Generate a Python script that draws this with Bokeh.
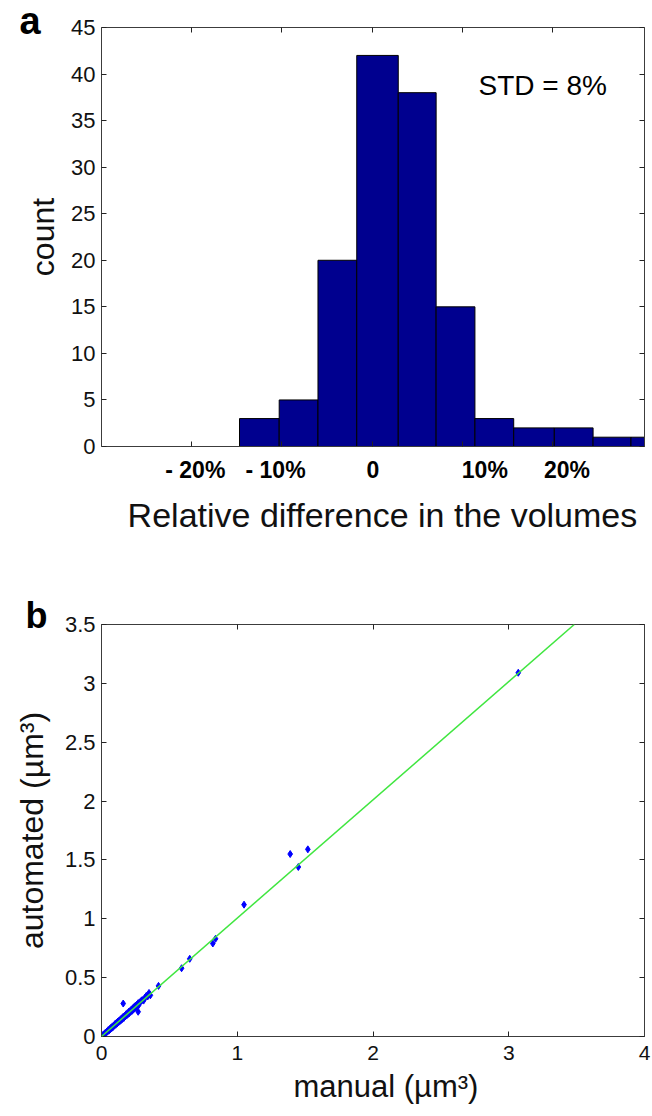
from bokeh.plotting import figure
from bokeh.models import Range1d, LinearAxis, FixedTicker, Label, Slope, ColumnDataSource
from bokeh.layouts import column
from bokeh.embed import file_html
from bokeh.resources import INLINE

FONT = "Liberation Sans"

# ---------------- data: panel a (histogram of relative difference, %) ----------------
bin_left = [-23.4, -19.1, -14.7, -10.3, -6.0, -1.7, 2.9, 7.1, 11.4, 15.7, 20.2, 24.5, 28.7]
bin_right = [-19.1, -14.7, -10.3, -6.0, -1.7, 2.9, 7.1, 11.4, 15.7, 20.2, 24.5, 28.7, 33.0]
counts = [0, 0, 3, 5, 20, 42, 38, 15, 3, 2, 2, 1, 1]
hist_ticks = [-20, -10, 0, 10, 20]
hist_label_pos = [-19.6, -10.7, 0.1, 12.5, 21.6]
hist_labels = ["- 20%", "- 10%", "0", "10%", "20%"]
count_ticks = [0, 5, 10, 15, 20, 25, 30, 35, 40, 45]
std_text = "STD = 8%"

# ---------------- data: panel b (automated vs manual volumes, um^3) ----------------
manual = [3.07, 1.52, 1.45, 1.39, 1.05, 0.84, 0.82, 0.65, 0.59, 0.42, 0.36, 0.35, 0.34, 0.27, 0.16,
          0.005, 0.01, 0.015, 0.02, 0.025, 0.03, 0.035, 0.04, 0.045, 0.05, 0.055, 0.06, 0.065, 0.07,
          0.075, 0.08, 0.085, 0.09, 0.095, 0.10, 0.105, 0.11, 0.115, 0.12, 0.125, 0.13, 0.135, 0.14,
          0.145, 0.15, 0.155, 0.16, 0.165, 0.17, 0.175, 0.18, 0.185, 0.19, 0.195, 0.20, 0.205, 0.21,
          0.215, 0.22, 0.225, 0.23, 0.235, 0.24, 0.245, 0.25, 0.255, 0.26, 0.265, 0.27, 0.275, 0.28,
          0.29, 0.30, 0.31, 0.32, 0.33]
automated = [3.09, 1.59, 1.44, 1.55, 1.12, 0.83, 0.79, 0.66, 0.58, 0.43, 0.35, 0.37, 0.34, 0.21, 0.28,
             0.004, 0.012, 0.014, 0.022, 0.023, 0.034, 0.031, 0.043, 0.042, 0.055, 0.050, 0.064, 0.061, 0.075,
             0.070, 0.086, 0.080, 0.094, 0.092, 0.107, 0.100, 0.116, 0.110, 0.127, 0.120, 0.136, 0.130, 0.147,
             0.140, 0.155, 0.149, 0.168, 0.158, 0.176, 0.170, 0.188, 0.178, 0.197, 0.190, 0.210, 0.198, 0.216,
             0.210, 0.230, 0.218, 0.240, 0.228, 0.250, 0.240, 0.262, 0.250, 0.270, 0.258, 0.283, 0.268, 0.290,
             0.300, 0.310, 0.305, 0.330, 0.345]
fit_slope = 1.005
fit_intercept = 0.0
vol_x_ticks = [0, 1, 2, 3, 4]
vol_x_labels = ["0", "1", "2", "3", "4"]
vol_y_ticks = [0, 0.5, 1, 1.5, 2, 2.5, 3, 3.5]
vol_y_labels = ["0", "0.5", "1", "1.5", "2", "2.5", "3", "3.5"]

AXIS_COLOR = "#3c3c3c"
TEXT_COLOR = "#111111"
NB = "\u00a0"


def base_axis(ax):
    ax.axis_line_color = AXIS_COLOR
    ax.axis_line_width = 1
    ax.major_tick_line_color = "#222222"
    ax.minor_tick_line_color = "#222222"
    ax.major_label_text_font = FONT
    ax.major_label_text_color = TEXT_COLOR
    ax.axis_label_text_font = FONT
    ax.axis_label_text_font_style = "normal"
    ax.axis_label_text_color = TEXT_COLOR
    ax.minor_tick_in = 0
    ax.minor_tick_out = 0


def labelled_axis(ax, ticks, labels, size="22px", standoff=6):
    base_axis(ax)
    ax.ticker = FixedTicker(ticks=ticks)
    ax.major_label_overrides = {t: l for t, l in zip(ticks, labels)}
    ax.major_tick_in = 5
    ax.major_tick_out = 0
    ax.major_label_text_font_size = size
    ax.major_label_standoff = standoff


def tick_only_axis(ticks):
    # mirror axis: inward tick marks only, drawn as minor ticks so no labels exist
    ax = LinearAxis()
    base_axis(ax)
    ax.ticker = FixedTicker(ticks=[], minor_ticks=ticks)
    ax.major_tick_in = 0
    ax.major_tick_out = 0
    ax.minor_tick_in = 5
    ax.minor_tick_out = 0
    ax.major_label_standoff = 0
    return ax


# ---------------- panel a ----------------
p1 = figure(frame_width=543, frame_height=419,
            min_border_left=96, min_border_right=13, min_border_top=27, min_border_bottom=134,
            x_range=Range1d(-30, 30.2), y_range=Range1d(0, 45),
            output_backend="svg", toolbar_location=None,
            background_fill_color="white", border_fill_color="white", outline_line_color=None)
p1.xgrid.visible = False
p1.ygrid.visible = False

src1 = ColumnDataSource(dict(left=bin_left, right=bin_right, top=counts))
p1.quad(left="left", right="right", bottom=0, top="top", source=src1,
        fill_color="#00008F", line_color="black", line_width=1)

labelled_axis(p1.yaxis[0], count_ticks, [str(c) for c in count_ticks])
p1.yaxis[0].axis_label = "count"
p1.yaxis[0].axis_label_text_font_size = "32px"
p1.yaxis[0].axis_label_standoff = 7

bx = p1.xaxis[0]
base_axis(bx)
bx.ticker = FixedTicker(ticks=hist_label_pos, minor_ticks=hist_ticks)
bx.major_tick_in = 0
bx.major_tick_out = 0
bx.minor_tick_in = 5
bx.minor_tick_out = 0
bx.major_label_overrides = {pos: lab for pos, lab in zip(hist_label_pos, hist_labels)}
bx.major_label_text_font_size = "23px"
bx.major_label_text_font_style = "bold"
bx.major_label_text_color = "black"
bx.major_label_standoff = 10
bx.axis_label = NB + NB + "Relative difference in the volumes"
bx.axis_label_text_font_size = "34px"
bx.axis_label_standoff = 10

p1.add_layout(tick_only_axis(hist_ticks), "above")
p1.add_layout(tick_only_axis(count_ticks), "right")

p1.add_layout(Label(x=11.8, y=38.8, text=std_text, text_font=FONT, text_font_size="28px",
                    text_baseline="middle", text_align="left", text_color="black"))
# panel letter, placed in the bottom side panel (screen units relative to that panel)
p1.add_layout(Label(x=-82, y=558, x_units="screen", y_units="screen", text="a", text_font=FONT,
                    text_font_size="38px", text_font_style="bold", text_baseline="alphabetic",
                    text_align="left", text_color="black"), "below")

# ---------------- panel b ----------------
p2 = figure(frame_width=543, frame_height=412,
            min_border_left=101, min_border_right=8, min_border_top=44, min_border_bottom=76,
            x_range=Range1d(0, 4), y_range=Range1d(0, 3.5),
            output_backend="svg", toolbar_location=None,
            background_fill_color="white", border_fill_color="white", outline_line_color=None)
p2.xgrid.visible = False
p2.ygrid.visible = False

p2.scatter(manual, automated, marker="diamond", size=7, color="#0000FF")
p2.add_layout(Slope(gradient=fit_slope, y_intercept=fit_intercept, line_color="#40E640", line_width=1.5))

labelled_axis(p2.xaxis[0], vol_x_ticks, vol_x_labels, size="21px", standoff=9)
p2.xaxis[0].axis_label = NB + NB + NB + "manual (\u00b5m\u00b3)"
p2.xaxis[0].axis_label_text_font_size = "31px"
p2.xaxis[0].axis_label_standoff = 6

labelled_axis(p2.yaxis[0], vol_y_ticks, vol_y_labels)
p2.yaxis[0].axis_label = "automated (\u00b5m\u00b3)"
p2.yaxis[0].axis_label_text_font_size = "32px"
p2.yaxis[0].axis_label_standoff = 12

p2.add_layout(tick_only_axis(vol_x_ticks), "above")
p2.add_layout(tick_only_axis(vol_y_ticks), "right")

p2.add_layout(Label(x=-76, y=9, x_units="screen", y_units="screen", text="b", text_font=FONT,
                    text_font_size="36px", text_font_style="bold", text_baseline="alphabetic",
                    text_align="left", text_color="black"), "above")

layout = column(p1, p2, spacing=0)
open("out.html", "w").write(file_html(layout, INLINE))
